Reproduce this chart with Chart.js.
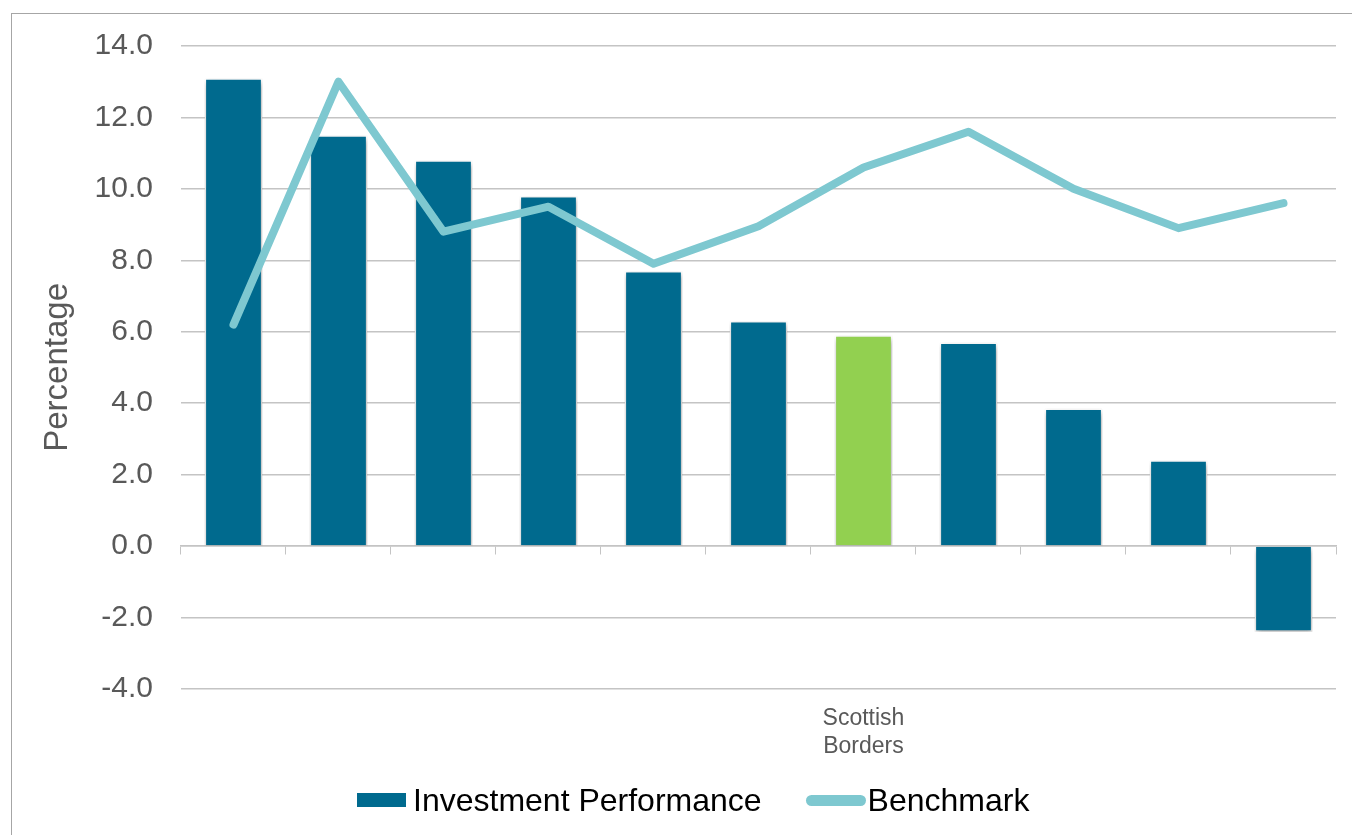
<!DOCTYPE html>
<html>
<head>
<meta charset="utf-8">
<script src="https://cdn.jsdelivr.net/npm/chart.js@4"></script>
<style>
  body { margin: 0; background: #fff; }
  #wrap { position: relative; width: 1352px; height: 835px; overflow: hidden; }
  #frame { position: absolute; left: 11px; top: 13px; width: 1400px; height: 900px;
           border-left: 1px solid #a6a6a6; border-top: 1px solid #a6a6a6; pointer-events: none; }
  #legend { position: absolute; left: 357px; top: 781px; height: 38px; display: flex; align-items: center;
            font-family: "Liberation Sans", Arial, sans-serif; font-size: 32px; color: #000; }
  .item { display: flex; align-items: center; white-space: nowrap; }
  .item + .item { margin-left: 44px; }
  .swatch-bar { width: 49px; height: 14px; margin-right: 7px; }
  .swatch-line { width: 60px; height: 11px; border-radius: 6px; margin-right: 2px; }
</style>
</head>
<body>
<div id="wrap">
  <canvas id="chart" width="1352" height="835"></canvas>
  <div id="frame"></div>
  <div id="legend"></div>
</div>
<script>
// ================= DATA =================
const categories = ["", "", "", "", "", "", ["Scottish", "Borders"], "", "", "", ""];
const performance = [13.1, 11.5, 10.8, 9.8, 7.7, 6.3, 5.9, 5.7, 3.85, 2.4, -2.4];
const benchmark = [6.2, 13.0, 8.8, 9.5, 7.9, 8.95, 10.6, 11.6, 10.0, 8.9, 9.6];
const highlightIndex = 6;

// ================= COLOURS =================
const barColor = "#006a8e";
const highlightColor = "#92d050";
const lineColor = "#7ec8d0";
const gridColor = "#c4c4c4";
const tickColor = "#595959";
const fontFamily = "Liberation Sans, Arial";

const barColors = performance.map((v, i) => i === highlightIndex ? highlightColor : barColor);

// soft shadow under the bars
const barShadow = {
  id: "barShadow",
  beforeDatasetDraw(chart, args) {
    if (args.meta.type !== "bar") return;
    const ctx = chart.ctx;
    ctx.save();
    ctx.shadowColor = "rgba(0,0,0,0.35)";
    ctx.shadowBlur = 6;
    ctx.shadowOffsetX = 1;
    ctx.shadowOffsetY = 3;
  },
  afterDatasetDraw(chart, args) {
    if (args.meta.type !== "bar") return;
    chart.ctx.restore();
  }
};

// html legend built from the datasets (bars first, like the original)
const htmlLegend = {
  id: "htmlLegend",
  afterUpdate(chart) {
    const box = document.getElementById("legend");
    box.innerHTML = "";
    chart.data.datasets.slice().reverse().forEach(ds => {
      const isLine = ds.type === "line";
      const item = document.createElement("div");
      item.className = "item";
      const sw = document.createElement("span");
      sw.className = isLine ? "swatch-line" : "swatch-bar";
      sw.style.background = isLine ? ds.borderColor : barColor;
      const txt = document.createElement("span");
      txt.textContent = ds.label;
      item.appendChild(sw);
      item.appendChild(txt);
      box.appendChild(item);
    });
  }
};

// ================= CHART =================
new Chart(document.getElementById("chart"), {
  type: "bar",
  data: {
    labels: categories,
    datasets: [
      {
        type: "line",
        label: "Benchmark",
        data: benchmark,
        borderColor: lineColor,
        backgroundColor: lineColor,
        borderWidth: 8,
        tension: 0,
        pointRadius: 0,
        borderCapStyle: "round",
        borderJoinStyle: "round",
        order: 0
      },
      {
        label: "Investment Performance",
        data: performance,
        backgroundColor: barColors,
        borderColor: "#ffffff",
        borderWidth: 1.5,
        categoryPercentage: 1,
        barPercentage: 0.55,
        order: 1
      }
    ]
  },
  plugins: [barShadow, htmlLegend],
  options: {
    responsive: false,
    animation: false,
    layout: { padding: { left: 38, right: 16, top: 24, bottom: 67 } },
    plugins: {
      tooltip: { enabled: false },
      legend: { display: false }
    },
    scales: {
      x: {
        grid: { display: false },
        border: { display: false },
        ticks: {
          color: tickColor,
          font: { family: fontFamily, size: 23 },
          maxRotation: 0,
          autoSkip: false,
          padding: 8
        }
      },
      x2: {
        type: "category",
        labels: categories,
        position: { y: 0 },
        offset: true,
        grid: { offset: true, drawOnChartArea: false, tickLength: 8, color: gridColor },
        border: { color: gridColor, width: 1.5 },
        ticks: { display: false }
      },
      y: {
        min: -4,
        max: 14,
        grid: { color: gridColor, lineWidth: 1.5, drawTicks: false },
        border: { display: false },
        ticks: {
          stepSize: 2,
          color: tickColor,
          padding: 28,
          font: { family: fontFamily, size: 30 },
          callback: v => v.toFixed(1)
        },
        title: {
          display: true,
          text: "Percentage",
          color: tickColor,
          font: { family: fontFamily, size: 33 },
          padding: { top: 0, bottom: -11 }
        }
      }
    }
  }
});
</script>
</body>
</html>
